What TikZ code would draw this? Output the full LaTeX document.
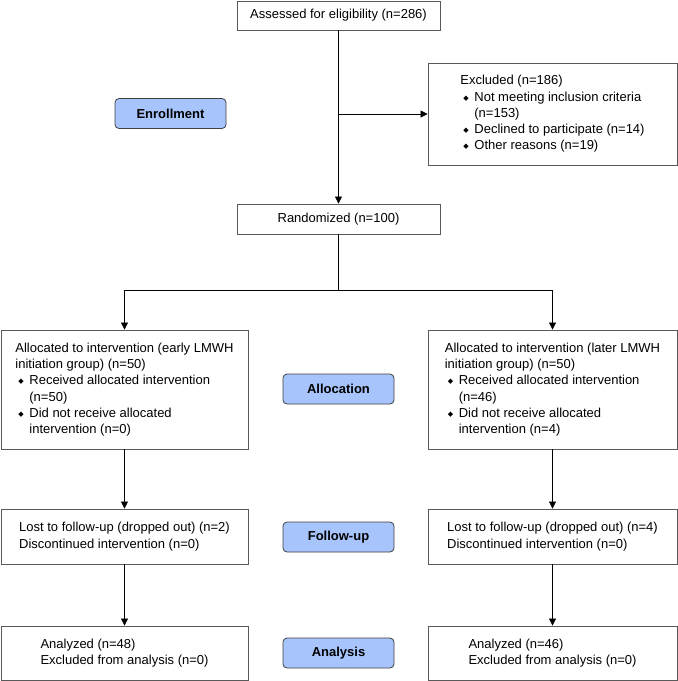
\documentclass[tikz,border=0pt]{standalone}
\usepackage{fontspec}
\setmainfont{Liberation Sans}
\newfontfamily\symfont{DejaVu Sans}
\usetikzlibrary{arrows.meta}

\definecolor{stagefill}{RGB}{168,196,252}
\newcommand{\itm}{\makebox[14pt][l]{\hspace{3pt}\raisebox{1pt}{\symfont\fontsize{7}{7}\selectfont ◆}}}
\newcommand{\ind}{\hspace*{14pt}}

\tikzset{
  box/.style={draw=black!65,line width=0.8pt,align=left,inner sep=0pt,
    font=\fontsize{13}{16.3}\selectfont},
  stage/.style={draw=black!75,fill=stagefill,rounded corners=4pt,line width=0.8pt,
    minimum width=111pt,minimum height=30pt,inner sep=0pt,
    font=\fontsize{13}{15}\selectfont\bfseries},
  arr/.style={-{Triangle[length=7pt,width=7pt]},line width=0.6pt}
}

\begin{document}
\begin{tikzpicture}[x=1pt,y=-1pt]
  \useasboundingbox (0,0) rectangle (678,681);

  % enrollment
  \node[box,minimum width=203pt,minimum height=29pt] (elig) at (338.5,15.5) {Assessed for eligibility (n=286)};
  \node[box,minimum width=249pt,minimum height=102pt] (excl) at (552.5,114)
    {Excluded (n=186)\\ \itm Not meeting inclusion criteria\\ \ind(n=153)\\ \itm Declined to participate (n=14)\\ \itm Other reasons (n=19)};
  \node[stage] (enrol) at (170.5,113.5) {Enrollment};
  \node[box,minimum width=203pt,minimum height=30pt] (rand) at (338.5,219) {Randomized (n=100)};

  % allocation
  \node[box,minimum width=247pt,minimum height=119pt] (allocL) at (124.5,389.5)
    {Allocated to intervention (early LMWH\\ initiation group) (n=50)\\ \itm Received allocated intervention\\ \ind(n=50)\\ \itm Did not receive allocated\\ \ind intervention (n=0)};
  \node[box,minimum width=249pt,minimum height=119pt] (allocR) at (552.5,389.5)
    {Allocated to intervention (later LMWH\\ initiation group) (n=50)\\ \itm Received allocated intervention\\ \ind(n=46)\\ \itm Did not receive allocated\\ \ind intervention (n=4)};
  \node[stage] (alloc) at (338.5,389) {Allocation};

  % follow-up
  \node[box,minimum width=247pt,minimum height=55pt] (followL) at (124.5,536.5)
    {Lost to follow-up (dropped out) (n=2)\\ Discontinued intervention (n=0)};
  \node[box,minimum width=249pt,minimum height=55pt] (followR) at (552.5,536.5)
    {Lost to follow-up (dropped out) (n=4)\\ Discontinued intervention (n=0)};
  \node[stage] (follow) at (338.5,537) {Follow-up};

  % analysis
  \node[box,minimum width=247pt,minimum height=54pt] (anaL) at (124.5,653)
    {Analyzed (n=48)\\ Excluded from analysis (n=0)};
  \node[box,minimum width=249pt,minimum height=54pt] (anaR) at (552.5,653)
    {Analyzed (n=46)\\ Excluded from analysis (n=0)};
  \node[stage] (ana) at (338.5,653) {Analysis};

  \coordinate (split) at (elig.south |- excl.west);
  \coordinate (branch) at (338.5,290);

  \draw[arr] (elig) -- (rand);
  \draw[arr] (split) -- (excl.west);
  \draw (rand) -- (branch);
  \draw[arr] (branch) -| (allocL.north);
  \draw[arr] (branch) -| (allocR.north);
  \path[arr]
    (allocL) edge (followL)
    (allocR) edge (followR)
    (followL) edge (anaL)
    (followR) edge (anaR);
\end{tikzpicture}
\end{document}
